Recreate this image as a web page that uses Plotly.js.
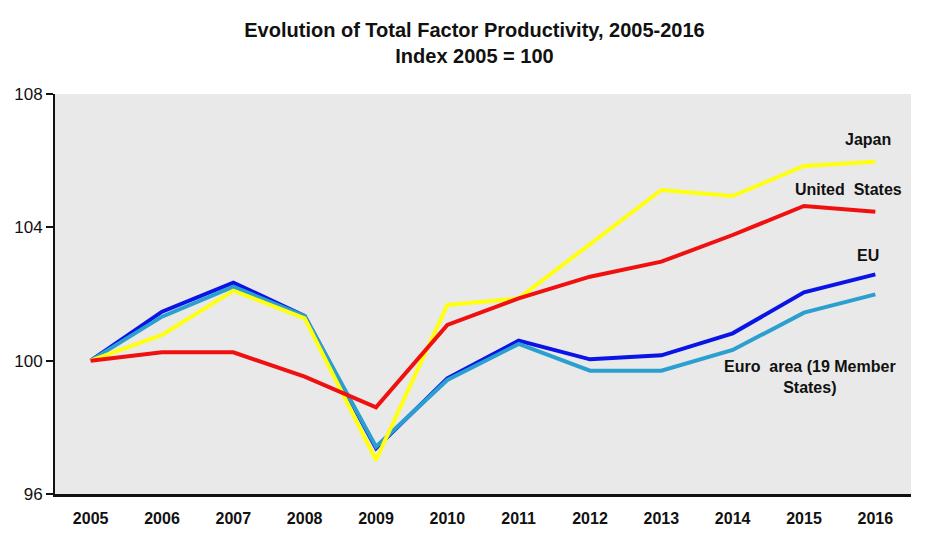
<!DOCTYPE html>
<html>
<head>
<meta charset="utf-8">
<script src="https://cdn.plot.ly/plotly-3.0.1.min.js"></script>
<style>html,body{margin:0;padding:0;background:#fff;}#chart{width:949px;height:541px;}</style>
</head>
<body>
<div id="chart"></div>
<script>
const years = ['2005','2006','2007','2008','2009','2010','2011','2012','2013','2014','2015','2016'];
const eu = [100, 101.47, 102.34, 101.34, 97.37, 99.47, 100.6, 100.04, 100.16, 100.82, 102.05, 102.59];
const euroArea = [100, 101.32, 102.22, 101.34, 97.42, 99.42, 100.5, 99.7, 99.7, 100.32, 101.44, 101.99];
const japan = [100, 100.77, 102.1, 101.27, 97.02, 101.67, 101.87, 103.5, 105.12, 104.94, 105.84, 105.97];
const us = [100, 100.25, 100.25, 99.52, 98.6, 101.07, 101.87, 102.52, 102.97, 103.77, 104.64, 104.47];
const yTicks = [96, 100, 104, 108];

const narrow = '"Liberation Sans Narrow", "Arial Narrow", "Liberation Sans", Arial, sans-serif';
function tr(y, color, name) {
  return {x: years, y: y, type: 'scatter', mode: 'lines', name: name,
          line: {color: color, width: 4}, hoverinfo: 'skip'};
}
const data = [
  tr(eu, '#0a14e6', 'EU'),
  tr(euroArea, '#2a9fd0', 'Euro area (19 Member States)'),
  tr(japan, '#ffff10', 'Japan'),
  tr(us, '#f01010', 'United States')
];
const af = {family: narrow, size: 16, color: '#111'};
const layout = {
  width: 949, height: 541,
  margin: {l: 55, r: 38, t: 94, b: 47},
  paper_bgcolor: '#ffffff',
  plot_bgcolor: '#e9e9e9',
  showlegend: false,
  title: {
    text: '<b>Evolution of Total Factor Productivity, 2005-2016</b><br><b>Index 2005 = 100</b>',
    x: 0.5, xanchor: 'center', y: 0.932, yanchor: 'top',
    font: {family: 'Liberation Sans, Arial, sans-serif', size: 20, color: '#111'}
  },
  xaxis: {
    type: 'category', range: [-0.5, 11.5], showgrid: false, zeroline: false,
    showline: true, linecolor: '#111', linewidth: 3, ticks: '',
    tickfont: {family: narrow, size: 16, color: '#111', weight: 'bold'},
    ticklabelstandoff: 8
  },
  yaxis: {
    range: [96, 108], tickvals: yTicks, showgrid: false, zeroline: false,
    showline: true, linecolor: '#111', linewidth: 2, ticks: 'outside',
    ticklen: 7, tickwidth: 2, tickcolor: '#111',
    tickfont: {family: 'Liberation Sans, Arial, sans-serif', size: 17, color: '#111'}
  },
  annotations: [
    {x: 10.9, y: 106.65, xref: 'x', yref: 'y', text: '<b>Japan</b>', showarrow: false, font: af, xanchor: 'center', yanchor: 'middle'},
    {x: 10.62, y: 105.15, xref: 'x', yref: 'y', text: '<b>United  States</b>', showarrow: false, font: af, xanchor: 'center', yanchor: 'middle'},
    {x: 10.9, y: 103.17, xref: 'x', yref: 'y', text: '<b>EU</b>', showarrow: false, font: af, xanchor: 'center', yanchor: 'middle'},
    {x: 10.08, y: 99.5, xref: 'x', yref: 'y', text: '<b>Euro  area (19 Member</b><br><b>States)</b>', showarrow: false, font: af, xanchor: 'center', yanchor: 'middle', align: 'center'}
  ]
};
Plotly.newPlot('chart', data, layout, {staticPlot: true, displayModeBar: false});
</script>
</body>
</html>
